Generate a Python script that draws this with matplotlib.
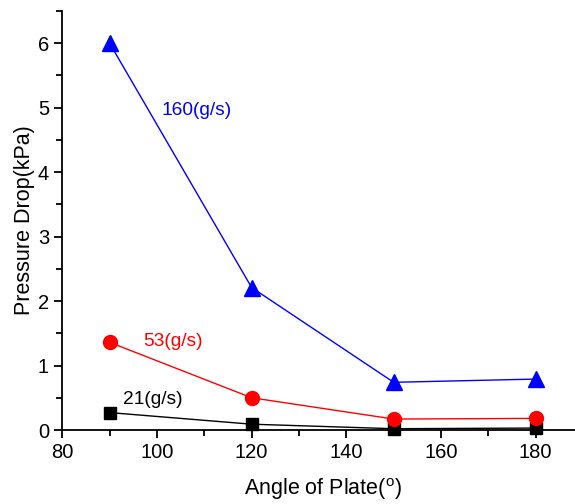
import matplotlib
matplotlib.use("Agg")
import matplotlib.pyplot as plt
from matplotlib.ticker import MultipleLocator

plt.rcParams['font.family'] = ['Liberation Sans', 'DejaVu Sans']
plt.rcParams['mathtext.fontset'] = 'custom'
plt.rcParams['mathtext.rm'] = 'Liberation Sans'

angles = [90, 120, 150, 180]
flow_160 = [6.0, 2.21, 0.74, 0.79]
flow_53 = [1.36, 0.50, 0.17, 0.18]
flow_21 = [0.27, 0.09, 0.02, 0.03]
labels = ["160(g/s)", "53(g/s)", "21(g/s)"]

fig = plt.figure(figsize=(5.75, 5.04), dpi=100)
ax = fig.add_axes([62.3/575, (504-430)/504, (583-62.3)/575, (430-11)/504])

ax.plot(angles, flow_21, color='black', lw=1, marker='s', ms=9, clip_on=False, zorder=3)
ax.plot(angles, flow_53, color='red', lw=1, marker='o', ms=10, clip_on=False, zorder=4)
ax.plot(angles, flow_160, color='blue', lw=1, marker='^', ms=11, clip_on=False, zorder=5)

ax.text(101, 4.95, labels[0], color='blue', fontsize=13.8, va='center', ha='left')
ax.text(97.1, 1.37, labels[1], color='red', fontsize=13.8, va='center', ha='left')
ax.text(92.8, 0.47, labels[2], color='black', fontsize=13.8, va='center', ha='left')

ax.set_xlim(80, 190)
ax.set_ylim(0, 6.5)
ax.xaxis.set_major_locator(MultipleLocator(20))
ax.xaxis.set_minor_locator(MultipleLocator(10))
ax.yaxis.set_major_locator(MultipleLocator(1))
ax.yaxis.set_minor_locator(MultipleLocator(0.5))
ax.set_xticks([80, 100, 120, 140, 160, 180])
ax.spines['top'].set_visible(False)
ax.spines['right'].set_visible(False)
for s in ['left', 'bottom']:
    ax.spines[s].set_linewidth(1.3)
ax.tick_params(which='major', direction='out', length=6, width=1.3, labelsize=14.5)
ax.tick_params(which='minor', direction='out', length=4, width=1.3)

ax.set_xlabel('Angle of Plate($^{\\rm o}$)', fontsize=15.5, labelpad=10)
ax.set_ylabel('Pressure Drop(kPa)', fontsize=15.5, labelpad=2)

fig.savefig('out.png', dpi=100)
